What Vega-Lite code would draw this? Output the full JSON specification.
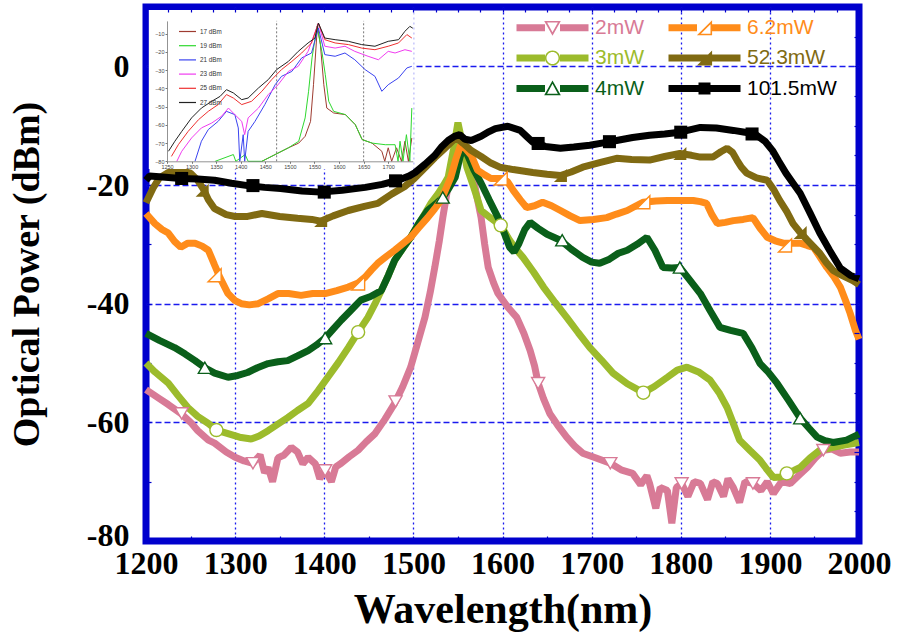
{
  "$schema": "https://vega.github.io/schema/vega-lite/v6.json",
  "width": 713,
  "height": 534,
  "autosize": "none",
  "padding": {"left": 146, "top": 7, "right": 45, "bottom": 92},
  "background": "white",
  "config": {
    "view": {"stroke": "#0000CD", "strokeWidth": 7},
    "axis": {"labelFont": "Liberation Serif", "titleFont": "Liberation Serif"}
  },
  "datasets": {
    "main": [
      {"s":"2mW","w":1200,"p":-54.5},{"s":"2mW","w":1215,"p":-56},{"s":"2mW","w":1225,"p":-57},{"s":"2mW","w":1239,"p":-58.5},{"s":"2mW","w":1250,"p":-60},{"s":"2mW","w":1258,"p":-61.4},{"s":"2mW","w":1270,"p":-63},{"s":"2mW","w":1277,"p":-63.5},{"s":"2mW","w":1290,"p":-65},{"s":"2mW","w":1300,"p":-65.9},{"s":"2mW","w":1310,"p":-66.5},{"s":"2mW","w":1320,"p":-66.9},{"s":"2mW","w":1328,"p":-65.5},{"s":"2mW","w":1333,"p":-68.5},{"s":"2mW","w":1337,"p":-67.6},{"s":"2mW","w":1342,"p":-70},{"s":"2mW","w":1348,"p":-66},{"s":"2mW","w":1355,"p":-65.5},{"s":"2mW","w":1363,"p":-64.2},{"s":"2mW","w":1370,"p":-65},{"s":"2mW","w":1376,"p":-67},{"s":"2mW","w":1382,"p":-65.9},{"s":"2mW","w":1390,"p":-67},{"s":"2mW","w":1395,"p":-69.5},{"s":"2mW","w":1401,"p":-68.1},{"s":"2mW","w":1408,"p":-70},{"s":"2mW","w":1413,"p":-67.5},{"s":"2mW","w":1419,"p":-66.9},{"s":"2mW","w":1428,"p":-65.8},{"s":"2mW","w":1438,"p":-64.7},{"s":"2mW","w":1447,"p":-63.3},{"s":"2mW","w":1457,"p":-61.9},{"s":"2mW","w":1468,"p":-59.5},{"s":"2mW","w":1479,"p":-56.8},{"s":"2mW","w":1488,"p":-54},{"s":"2mW","w":1497,"p":-50.7},{"s":"2mW","w":1505,"p":-46.5},{"s":"2mW","w":1513,"p":-42.3},{"s":"2mW","w":1519,"p":-38},{"s":"2mW","w":1524,"p":-33.9},{"s":"2mW","w":1529,"p":-29.5},{"s":"2mW","w":1533,"p":-25.5},{"s":"2mW","w":1538,"p":-21},{"s":"2mW","w":1542,"p":-17.5},{"s":"2mW","w":1548,"p":-14.5},{"s":"2mW","w":1553,"p":-12.5},{"s":"2mW","w":1558,"p":-14},{"s":"2mW","w":1565,"p":-17},{"s":"2mW","w":1570,"p":-21},{"s":"2mW","w":1576,"p":-25.5},{"s":"2mW","w":1580,"p":-30},{"s":"2mW","w":1584,"p":-33.9},{"s":"2mW","w":1590,"p":-36.5},{"s":"2mW","w":1595,"p":-38.3},{"s":"2mW","w":1606,"p":-40.6},{"s":"2mW","w":1616,"p":-42.3},{"s":"2mW","w":1624,"p":-45},{"s":"2mW","w":1631,"p":-47.9},{"s":"2mW","w":1636,"p":-50.5},{"s":"2mW","w":1640,"p":-53.4},{"s":"2mW","w":1646,"p":-56},{"s":"2mW","w":1653,"p":-58.5},{"s":"2mW","w":1662,"p":-60.5},{"s":"2mW","w":1672,"p":-62.5},{"s":"2mW","w":1681,"p":-64},{"s":"2mW","w":1690,"p":-65.2},{"s":"2mW","w":1705,"p":-66},{"s":"2mW","w":1721,"p":-66.9},{"s":"2mW","w":1733,"p":-68},{"s":"2mW","w":1746,"p":-68.6},{"s":"2mW","w":1755,"p":-70.5},{"s":"2mW","w":1762,"p":-69},{"s":"2mW","w":1765,"p":-70.3},{"s":"2mW","w":1772,"p":-74.5},{"s":"2mW","w":1777,"p":-71},{"s":"2mW","w":1785,"p":-71.5},{"s":"2mW","w":1790,"p":-77},{"s":"2mW","w":1795,"p":-71},{"s":"2mW","w":1801,"p":-70.3},{"s":"2mW","w":1808,"p":-72.5},{"s":"2mW","w":1815,"p":-70},{"s":"2mW","w":1822,"p":-70.3},{"s":"2mW","w":1830,"p":-73},{"s":"2mW","w":1836,"p":-70},{"s":"2mW","w":1841,"p":-70.3},{"s":"2mW","w":1848,"p":-72.5},{"s":"2mW","w":1853,"p":-69.5},{"s":"2mW","w":1859,"p":-71},{"s":"2mW","w":1866,"p":-73.5},{"s":"2mW","w":1872,"p":-70},{"s":"2mW","w":1881,"p":-70.3},{"s":"2mW","w":1890,"p":-71.5},{"s":"2mW","w":1897,"p":-70},{"s":"2mW","w":1904,"p":-72},{"s":"2mW","w":1913,"p":-70},{"s":"2mW","w":1923,"p":-70.3},{"s":"2mW","w":1932,"p":-69},{"s":"2mW","w":1942,"p":-67.6},{"s":"2mW","w":1951,"p":-66},{"s":"2mW","w":1960,"p":-64.7},{"s":"2mW","w":1970,"p":-64.5},{"s":"2mW","w":1979,"p":-65.2},{"s":"2mW","w":1990,"p":-65},{"s":"2mW","w":2000,"p":-65},

      {"s":"3mW","w":1200,"p":-50},{"s":"3mW","w":1210,"p":-51.5},{"s":"3mW","w":1225,"p":-53.4},{"s":"3mW","w":1236,"p":-55.5},{"s":"3mW","w":1247,"p":-57.5},{"s":"3mW","w":1258,"p":-59},{"s":"3mW","w":1270,"p":-60.2},{"s":"3mW","w":1279,"p":-61.3},{"s":"3mW","w":1292,"p":-61.9},{"s":"3mW","w":1305,"p":-62.5},{"s":"3mW","w":1318,"p":-62.8},{"s":"3mW","w":1327,"p":-62.3},{"s":"3mW","w":1337,"p":-61.4},{"s":"3mW","w":1348,"p":-60.3},{"s":"3mW","w":1359,"p":-59.2},{"s":"3mW","w":1370,"p":-58},{"s":"3mW","w":1382,"p":-56.8},{"s":"3mW","w":1393,"p":-54.7},{"s":"3mW","w":1404,"p":-52.4},{"s":"3mW","w":1416,"p":-49.9},{"s":"3mW","w":1427,"p":-47.4},{"s":"3mW","w":1438,"p":-44.8},{"s":"3mW","w":1449,"p":-42.3},{"s":"3mW","w":1457,"p":-40},{"s":"3mW","w":1464,"p":-37.8},{"s":"3mW","w":1472,"p":-35.2},{"s":"3mW","w":1479,"p":-32.7},{"s":"3mW","w":1488,"p":-30.7},{"s":"3mW","w":1497,"p":-28.8},{"s":"3mW","w":1505,"p":-26.8},{"s":"3mW","w":1513,"p":-24.8},{"s":"3mW","w":1520,"p":-23},{"s":"3mW","w":1528,"p":-21.4},{"s":"3mW","w":1534,"p":-20},{"s":"3mW","w":1539,"p":-18.7},{"s":"3mW","w":1545,"p":-14},{"s":"3mW","w":1550,"p":-9.5},{"s":"3mW","w":1555,"p":-13},{"s":"3mW","w":1560,"p":-17},{"s":"3mW","w":1568,"p":-20.5},{"s":"3mW","w":1576,"p":-24.3},{"s":"3mW","w":1587,"p":-25.6},{"s":"3mW","w":1598,"p":-26.8},{"s":"3mW","w":1608,"p":-29.3},{"s":"3mW","w":1615,"p":-30.8},{"s":"3mW","w":1623,"p":-32.2},{"s":"3mW","w":1635,"p":-34.7},{"s":"3mW","w":1646,"p":-37.2},{"s":"3mW","w":1659,"p":-39.8},{"s":"3mW","w":1672,"p":-42.3},{"s":"3mW","w":1685,"p":-44.9},{"s":"3mW","w":1698,"p":-47.4},{"s":"3mW","w":1711,"p":-49.5},{"s":"3mW","w":1724,"p":-51.7},{"s":"3mW","w":1740,"p":-53.5},{"s":"3mW","w":1758,"p":-55},{"s":"3mW","w":1770,"p":-54},{"s":"3mW","w":1785,"p":-52.4},{"s":"3mW","w":1796,"p":-51.2},{"s":"3mW","w":1807,"p":-50.7},{"s":"3mW","w":1820,"p":-51.5},{"s":"3mW","w":1833,"p":-52.9},{"s":"3mW","w":1843,"p":-55},{"s":"3mW","w":1852,"p":-57.5},{"s":"3mW","w":1859,"p":-60.2},{"s":"3mW","w":1866,"p":-63},{"s":"3mW","w":1878,"p":-64.8},{"s":"3mW","w":1889,"p":-66.4},{"s":"3mW","w":1897,"p":-68},{"s":"3mW","w":1904,"p":-69.3},{"s":"3mW","w":1912,"p":-69.2},{"s":"3mW","w":1919,"p":-68.6},{"s":"3mW","w":1927,"p":-68.1},{"s":"3mW","w":1934,"p":-67.6},{"s":"3mW","w":1945,"p":-66},{"s":"3mW","w":1956,"p":-64.7},{"s":"3mW","w":1971,"p":-64.2},{"s":"3mW","w":1985,"p":-63.8},{"s":"3mW","w":2000,"p":-63.4},

      {"s":"4mW","w":1200,"p":-45},{"s":"4mW","w":1215,"p":-46.2},{"s":"4mW","w":1232,"p":-47.4},{"s":"4mW","w":1244,"p":-48.5},{"s":"4mW","w":1255,"p":-49.6},{"s":"4mW","w":1266,"p":-50.8},{"s":"4mW","w":1277,"p":-51.7},{"s":"4mW","w":1292,"p":-52.4},{"s":"4mW","w":1303,"p":-52.1},{"s":"4mW","w":1314,"p":-51.6},{"s":"4mW","w":1325,"p":-50.8},{"s":"4mW","w":1337,"p":-50.1},{"s":"4mW","w":1348,"p":-49.8},{"s":"4mW","w":1359,"p":-49.6},{"s":"4mW","w":1370,"p":-48.8},{"s":"4mW","w":1382,"p":-47.9},{"s":"4mW","w":1391,"p":-47},{"s":"4mW","w":1401,"p":-45.8},{"s":"4mW","w":1410,"p":-44.3},{"s":"4mW","w":1419,"p":-42.8},{"s":"4mW","w":1430,"p":-41.1},{"s":"4mW","w":1441,"p":-39.4},{"s":"4mW","w":1452,"p":-38.8},{"s":"4mW","w":1464,"p":-37.8},{"s":"4mW","w":1472,"p":-35.2},{"s":"4mW","w":1479,"p":-32.7},{"s":"4mW","w":1488,"p":-30.7},{"s":"4mW","w":1497,"p":-28.8},{"s":"4mW","w":1506,"p":-26.5},{"s":"4mW","w":1516,"p":-24.3},{"s":"4mW","w":1525,"p":-23.2},{"s":"4mW","w":1533,"p":-22.1},{"s":"4mW","w":1540,"p":-20.5},{"s":"4mW","w":1547,"p":-18.7},{"s":"4mW","w":1552,"p":-15.5},{"s":"4mW","w":1556,"p":-13.5},{"s":"4mW","w":1561,"p":-15},{"s":"4mW","w":1568,"p":-17.5},{"s":"4mW","w":1576,"p":-19.7},{"s":"4mW","w":1585,"p":-22.5},{"s":"4mW","w":1595,"p":-25.5},{"s":"4mW","w":1603,"p":-28.5},{"s":"4mW","w":1608,"p":-30.5},{"s":"4mW","w":1613,"p":-31.3},{"s":"4mW","w":1618,"p":-30},{"s":"4mW","w":1625,"p":-27.5},{"s":"4mW","w":1631,"p":-26.3},{"s":"4mW","w":1640,"p":-27.3},{"s":"4mW","w":1650,"p":-28.3},{"s":"4mW","w":1665,"p":-29.3},{"s":"4mW","w":1677,"p":-30.8},{"s":"4mW","w":1690,"p":-32.2},{"s":"4mW","w":1700,"p":-33},{"s":"4mW","w":1709,"p":-33.2},{"s":"4mW","w":1720,"p":-32.5},{"s":"4mW","w":1730,"p":-31.5},{"s":"4mW","w":1740,"p":-31},{"s":"4mW","w":1751,"p":-30},{"s":"4mW","w":1762,"p":-28.8},{"s":"4mW","w":1771,"p":-31},{"s":"4mW","w":1780,"p":-33.9},{"s":"4mW","w":1790,"p":-34},{"s":"4mW","w":1799,"p":-33.9},{"s":"4mW","w":1810,"p":-36},{"s":"4mW","w":1822,"p":-38.3},{"s":"4mW","w":1833,"p":-41.2},{"s":"4mW","w":1844,"p":-44},{"s":"4mW","w":1856,"p":-44.5},{"s":"4mW","w":1870,"p":-45},{"s":"4mW","w":1880,"p":-47.5},{"s":"4mW","w":1889,"p":-50.1},{"s":"4mW","w":1898,"p":-51.5},{"s":"4mW","w":1908,"p":-53.4},{"s":"4mW","w":1921,"p":-56.3},{"s":"4mW","w":1934,"p":-59.3},{"s":"4mW","w":1944,"p":-61},{"s":"4mW","w":1953,"p":-62.5},{"s":"4mW","w":1962,"p":-63.1},{"s":"4mW","w":1971,"p":-63.4},{"s":"4mW","w":1986,"p":-63},{"s":"4mW","w":2000,"p":-62},

      {"s":"6.2mW","w":1200,"p":-24.8},{"s":"6.2mW","w":1210,"p":-26.5},{"s":"6.2mW","w":1218,"p":-27.5},{"s":"6.2mW","w":1225,"p":-28.1},{"s":"6.2mW","w":1232,"p":-29.5},{"s":"6.2mW","w":1239,"p":-30.5},{"s":"6.2mW","w":1247,"p":-29.8},{"s":"6.2mW","w":1255,"p":-29.8},{"s":"6.2mW","w":1263,"p":-30.3},{"s":"6.2mW","w":1270,"p":-31},{"s":"6.2mW","w":1277,"p":-33.5},{"s":"6.2mW","w":1283,"p":-35.6},{"s":"6.2mW","w":1292,"p":-38.3},{"s":"6.2mW","w":1300,"p":-39.5},{"s":"6.2mW","w":1307,"p":-40},{"s":"6.2mW","w":1316,"p":-40.2},{"s":"6.2mW","w":1326,"p":-40},{"s":"6.2mW","w":1337,"p":-39.2},{"s":"6.2mW","w":1348,"p":-38.3},{"s":"6.2mW","w":1360,"p":-38.3},{"s":"6.2mW","w":1374,"p":-38.6},{"s":"6.2mW","w":1387,"p":-38.3},{"s":"6.2mW","w":1401,"p":-38.3},{"s":"6.2mW","w":1414,"p":-37.8},{"s":"6.2mW","w":1427,"p":-37.2},{"s":"6.2mW","w":1438,"p":-36.5},{"s":"6.2mW","w":1446,"p":-35.5},{"s":"6.2mW","w":1453,"p":-34.3},{"s":"6.2mW","w":1460,"p":-33.2},{"s":"6.2mW","w":1470,"p":-32},{"s":"6.2mW","w":1479,"p":-31},{"s":"6.2mW","w":1488,"p":-29.9},{"s":"6.2mW","w":1497,"p":-28.8},{"s":"6.2mW","w":1506,"p":-27.2},{"s":"6.2mW","w":1516,"p":-25.5},{"s":"6.2mW","w":1524,"p":-24},{"s":"6.2mW","w":1531,"p":-22.6},{"s":"6.2mW","w":1537,"p":-20.5},{"s":"6.2mW","w":1542,"p":-18.7},{"s":"6.2mW","w":1548,"p":-15.5},{"s":"6.2mW","w":1553,"p":-13.3},{"s":"6.2mW","w":1558,"p":-13.8},{"s":"6.2mW","w":1565,"p":-15},{"s":"6.2mW","w":1572,"p":-17.5},{"s":"6.2mW","w":1580,"p":-18.3},{"s":"6.2mW","w":1587,"p":-18.9},{"s":"6.2mW","w":1600,"p":-18.9},{"s":"6.2mW","w":1606,"p":-19.5},{"s":"6.2mW","w":1612,"p":-20.9},{"s":"6.2mW","w":1620,"p":-22.5},{"s":"6.2mW","w":1627,"p":-23.8},{"s":"6.2mW","w":1636,"p":-23.5},{"s":"6.2mW","w":1645,"p":-22.9},{"s":"6.2mW","w":1655,"p":-23.5},{"s":"6.2mW","w":1665,"p":-24.3},{"s":"6.2mW","w":1676,"p":-25.2},{"s":"6.2mW","w":1687,"p":-26},{"s":"6.2mW","w":1702,"p":-25.8},{"s":"6.2mW","w":1717,"p":-25.5},{"s":"6.2mW","w":1728,"p":-24.9},{"s":"6.2mW","w":1740,"p":-24.3},{"s":"6.2mW","w":1750,"p":-23.5},{"s":"6.2mW","w":1758,"p":-22.9},{"s":"6.2mW","w":1772,"p":-22.7},{"s":"6.2mW","w":1785,"p":-22.6},{"s":"6.2mW","w":1800,"p":-22.6},{"s":"6.2mW","w":1814,"p":-22.6},{"s":"6.2mW","w":1822,"p":-22.8},{"s":"6.2mW","w":1829,"p":-23.1},{"s":"6.2mW","w":1835,"p":-25},{"s":"6.2mW","w":1841,"p":-26.5},{"s":"6.2mW","w":1850,"p":-26.3},{"s":"6.2mW","w":1859,"p":-26},{"s":"6.2mW","w":1870,"p":-25.8},{"s":"6.2mW","w":1881,"p":-25.5},{"s":"6.2mW","w":1889,"p":-27.3},{"s":"6.2mW","w":1897,"p":-28.8},{"s":"6.2mW","w":1906,"p":-29.4},{"s":"6.2mW","w":1915,"p":-29.8},{"s":"6.2mW","w":1925,"p":-29.8},{"s":"6.2mW","w":1934,"p":-29.8},{"s":"6.2mW","w":1942,"p":-30.2},{"s":"6.2mW","w":1949,"p":-30.5},{"s":"6.2mW","w":1957,"p":-32.3},{"s":"6.2mW","w":1964,"p":-33.9},{"s":"6.2mW","w":1972,"p":-35.5},{"s":"6.2mW","w":1979,"p":-37.2},{"s":"6.2mW","w":1985,"p":-39.5},{"s":"6.2mW","w":1990,"p":-41.6},{"s":"6.2mW","w":1996,"p":-44.5},{"s":"6.2mW","w":2000,"p":-46},

      {"s":"52.3mW","w":1200,"p":-23},{"s":"52.3mW","w":1208,"p":-20.5},{"s":"52.3mW","w":1215,"p":-18.8},{"s":"52.3mW","w":1225,"p":-17.9},{"s":"52.3mW","w":1239,"p":-17.6},{"s":"52.3mW","w":1250,"p":-18},{"s":"52.3mW","w":1258,"p":-19.2},{"s":"52.3mW","w":1264,"p":-20.6},{"s":"52.3mW","w":1270,"p":-22.5},{"s":"52.3mW","w":1277,"p":-24},{"s":"52.3mW","w":1290,"p":-25},{"s":"52.3mW","w":1300,"p":-25.3},{"s":"52.3mW","w":1314,"p":-25.3},{"s":"52.3mW","w":1330,"p":-24.8},{"s":"52.3mW","w":1350,"p":-25.3},{"s":"52.3mW","w":1370,"p":-25.6},{"s":"52.3mW","w":1386,"p":-25.8},{"s":"52.3mW","w":1396,"p":-26.1},{"s":"52.3mW","w":1410,"p":-25.2},{"s":"52.3mW","w":1427,"p":-24.3},{"s":"52.3mW","w":1445,"p":-23.6},{"s":"52.3mW","w":1460,"p":-23.1},{"s":"52.3mW","w":1476,"p":-21.5},{"s":"52.3mW","w":1490,"p":-20.3},{"s":"52.3mW","w":1501,"p":-18.9},{"s":"52.3mW","w":1513,"p":-17.1},{"s":"52.3mW","w":1524,"p":-15.4},{"s":"52.3mW","w":1534,"p":-14},{"s":"52.3mW","w":1541,"p":-13},{"s":"52.3mW","w":1548,"p":-12},{"s":"52.3mW","w":1556,"p":-13},{"s":"52.3mW","w":1565,"p":-14.2},{"s":"52.3mW","w":1576,"p":-15.2},{"s":"52.3mW","w":1587,"p":-16.3},{"s":"52.3mW","w":1597,"p":-17},{"s":"52.3mW","w":1612,"p":-17.4},{"s":"52.3mW","w":1634,"p":-17.9},{"s":"52.3mW","w":1650,"p":-18.2},{"s":"52.3mW","w":1665,"p":-18.4},{"s":"52.3mW","w":1677,"p":-17.8},{"s":"52.3mW","w":1690,"p":-17},{"s":"52.3mW","w":1710,"p":-16.2},{"s":"52.3mW","w":1728,"p":-15.5},{"s":"52.3mW","w":1745,"p":-15.7},{"s":"52.3mW","w":1765,"p":-15.8},{"s":"52.3mW","w":1782,"p":-15.2},{"s":"52.3mW","w":1799,"p":-14.7},{"s":"52.3mW","w":1812,"p":-15},{"s":"52.3mW","w":1822,"p":-15.3},{"s":"52.3mW","w":1836,"p":-15.3},{"s":"52.3mW","w":1845,"p":-14.4},{"s":"52.3mW","w":1852,"p":-13.8},{"s":"52.3mW","w":1858,"p":-14.5},{"s":"52.3mW","w":1863,"p":-15.8},{"s":"52.3mW","w":1868,"p":-17},{"s":"52.3mW","w":1874,"p":-18},{"s":"52.3mW","w":1885,"p":-18.8},{"s":"52.3mW","w":1897,"p":-19.2},{"s":"52.3mW","w":1904,"p":-20.7},{"s":"52.3mW","w":1911,"p":-22.6},{"s":"52.3mW","w":1919,"p":-24.5},{"s":"52.3mW","w":1926,"p":-26.5},{"s":"52.3mW","w":1934,"p":-28},{"s":"52.3mW","w":1942,"p":-29.3},{"s":"52.3mW","w":1949,"p":-30.4},{"s":"52.3mW","w":1956,"p":-31.5},{"s":"52.3mW","w":1963,"p":-33},{"s":"52.3mW","w":1971,"p":-34.4},{"s":"52.3mW","w":1979,"p":-35.1},{"s":"52.3mW","w":1986,"p":-35.6},{"s":"52.3mW","w":1993,"p":-36.1},{"s":"52.3mW","w":2000,"p":-36.8},

      {"s":"101.5mW","w":1200,"p":-19.2},{"s":"101.5mW","w":1204,"p":-18.5},{"s":"101.5mW","w":1215,"p":-18.6},{"s":"101.5mW","w":1239,"p":-18.9},{"s":"101.5mW","w":1258,"p":-19},{"s":"101.5mW","w":1277,"p":-19.2},{"s":"101.5mW","w":1296,"p":-19.7},{"s":"101.5mW","w":1314,"p":-20.1},{"s":"101.5mW","w":1333,"p":-20.4},{"s":"101.5mW","w":1351,"p":-20.6},{"s":"101.5mW","w":1375,"p":-21},{"s":"101.5mW","w":1396,"p":-21.2},{"s":"101.5mW","w":1420,"p":-20.9},{"s":"101.5mW","w":1446,"p":-20.4},{"s":"101.5mW","w":1465,"p":-19.9},{"s":"101.5mW","w":1483,"p":-19.2},{"s":"101.5mW","w":1495,"p":-18.5},{"s":"101.5mW","w":1502,"p":-17.9},{"s":"101.5mW","w":1513,"p":-16.5},{"s":"101.5mW","w":1524,"p":-15},{"s":"101.5mW","w":1532,"p":-13.5},{"s":"101.5mW","w":1539,"p":-12.5},{"s":"101.5mW","w":1546,"p":-11.8},{"s":"101.5mW","w":1552,"p":-11.5},{"s":"101.5mW","w":1558,"p":-12.3},{"s":"101.5mW","w":1565,"p":-12.5},{"s":"101.5mW","w":1576,"p":-11.8},{"s":"101.5mW","w":1585,"p":-11},{"s":"101.5mW","w":1592,"p":-10.5},{"s":"101.5mW","w":1606,"p":-10.1},{"s":"101.5mW","w":1620,"p":-10.8},{"s":"101.5mW","w":1627,"p":-11.8},{"s":"101.5mW","w":1634,"p":-12.8},{"s":"101.5mW","w":1648,"p":-13.5},{"s":"101.5mW","w":1665,"p":-13.8},{"s":"101.5mW","w":1680,"p":-13.6},{"s":"101.5mW","w":1698,"p":-13.3},{"s":"101.5mW","w":1713,"p":-12.9},{"s":"101.5mW","w":1728,"p":-12.5},{"s":"101.5mW","w":1746,"p":-12},{"s":"101.5mW","w":1765,"p":-11.6},{"s":"101.5mW","w":1782,"p":-11.4},{"s":"101.5mW","w":1799,"p":-11.1},{"s":"101.5mW","w":1810,"p":-10.7},{"s":"101.5mW","w":1822,"p":-10.3},{"s":"101.5mW","w":1840,"p":-10.4},{"s":"101.5mW","w":1859,"p":-10.8},{"s":"101.5mW","w":1872,"p":-11.1},{"s":"101.5mW","w":1885,"p":-11.6},{"s":"101.5mW","w":1895,"p":-12.7},{"s":"101.5mW","w":1903,"p":-14.2},{"s":"101.5mW","w":1910,"p":-16},{"s":"101.5mW","w":1918,"p":-18},{"s":"101.5mW","w":1926,"p":-19.7},{"s":"101.5mW","w":1934,"p":-21.4},{"s":"101.5mW","w":1945,"p":-24.7},{"s":"101.5mW","w":1956,"p":-28.1},{"s":"101.5mW","w":1967,"p":-31},{"s":"101.5mW","w":1979,"p":-34},{"s":"101.5mW","w":1990,"p":-35.2},{"s":"101.5mW","w":2000,"p":-35.8}
    ],
    "mk": [
      {"s":"2mW","w":1240,"p":-58.5},{"s":"2mW","w":1320,"p":-66.9},{"s":"2mW","w":1401,"p":-68.1},{"s":"2mW","w":1480,"p":-56.5},{"s":"2mW","w":1640,"p":-53.4},{"s":"2mW","w":1721,"p":-66.9},{"s":"2mW","w":1801,"p":-70.3},{"s":"2mW","w":1881,"p":-70.3},{"s":"2mW","w":1960,"p":-64.7},
      {"s":"3mW","w":1279,"p":-61.3},{"s":"3mW","w":1438,"p":-44.8},{"s":"3mW","w":1598,"p":-26.8},{"s":"3mW","w":1758,"p":-55},{"s":"3mW","w":1919,"p":-68.6},
      {"s":"4mW","w":1266,"p":-50.8},{"s":"4mW","w":1401,"p":-45.8},{"s":"4mW","w":1533,"p":-22.1},{"s":"4mW","w":1667,"p":-29.3},{"s":"4mW","w":1799,"p":-33.9},{"s":"4mW","w":1934,"p":-59.3},
      {"s":"6.2mW","w":1277,"p":-35.2},{"s":"6.2mW","w":1438,"p":-36.6},{"s":"6.2mW","w":1598,"p":-18.9},{"s":"6.2mW","w":1758,"p":-22.9},{"s":"6.2mW","w":1917,"p":-30.2},
      {"s":"52.3mW","w":1263,"p":-20.9},{"s":"52.3mW","w":1396,"p":-26},{"s":"52.3mW","w":1665,"p":-18.4},{"s":"52.3mW","w":1799,"p":-14.7},{"s":"52.3mW","w":1934,"p":-28},
      {"s":"101.5mW","w":1240,"p":-18.9},{"s":"101.5mW","w":1320,"p":-20.1},{"s":"101.5mW","w":1400,"p":-21.2},{"s":"101.5mW","w":1480,"p":-19.3},{"s":"101.5mW","w":1640,"p":-13},{"s":"101.5mW","w":1720,"p":-12.7},{"s":"101.5mW","w":1800,"p":-11.1},{"s":"101.5mW","w":1880,"p":-11.4}
    ],
    "ins": [
      {"s":"17 dBm","w":1443,"p":-80},{"s":"17 dBm","w":1470,"p":-76.3},{"s":"17 dBm","w":1497,"p":-72.6},{"s":"17 dBm","w":1518,"p":-70},{"s":"17 dBm","w":1531,"p":-66.3},{"s":"17 dBm","w":1542,"p":-58.1},{"s":"17 dBm","w":1548,"p":-38},{"s":"17 dBm","w":1553,"p":-17.9},{"s":"17 dBm","w":1556,"p":-5.1},{"s":"17 dBm","w":1562,"p":-16},{"s":"17 dBm","w":1569,"p":-38},{"s":"17 dBm","w":1575,"p":-50.8},{"s":"17 dBm","w":1589,"p":-53.5},{"s":"17 dBm","w":1613,"p":-54.4},{"s":"17 dBm","w":1633,"p":-59.9},{"s":"17 dBm","w":1647,"p":-68.1},{"s":"17 dBm","w":1667,"p":-70},{"s":"17 dBm","w":1687,"p":-74.5},{"s":"17 dBm","w":1693,"p":-80},{"s":"17 dBm","w":1700,"p":-72.6},{"s":"17 dBm","w":1707,"p":-80},{"s":"17 dBm","w":1717,"p":-72.6},{"s":"17 dBm","w":1727,"p":-80},{"s":"17 dBm","w":1734,"p":-69},{"s":"17 dBm","w":1741,"p":-80},{"s":"17 dBm","w":1748,"p":-67.2},
      {"s":"19 dBm","w":1348,"p":-80},{"s":"19 dBm","w":1385,"p":-76.3},{"s":"19 dBm","w":1390,"p":-80},{"s":"19 dBm","w":1409,"p":-76.3},{"s":"19 dBm","w":1415,"p":-80},{"s":"19 dBm","w":1443,"p":-80},{"s":"19 dBm","w":1470,"p":-76.3},{"s":"19 dBm","w":1497,"p":-72.6},{"s":"19 dBm","w":1518,"p":-69},{"s":"19 dBm","w":1531,"p":-56.2},{"s":"19 dBm","w":1538,"p":-41.6},{"s":"19 dBm","w":1545,"p":-23.3},{"s":"19 dBm","w":1555,"p":-6},{"s":"19 dBm","w":1565,"p":-19.7},{"s":"19 dBm","w":1572,"p":-32.5},{"s":"19 dBm","w":1579,"p":-47.1},{"s":"19 dBm","w":1589,"p":-52.6},{"s":"19 dBm","w":1613,"p":-54.4},{"s":"19 dBm","w":1633,"p":-59.9},{"s":"19 dBm","w":1647,"p":-68.1},{"s":"19 dBm","w":1667,"p":-70},{"s":"19 dBm","w":1694,"p":-70.9},{"s":"19 dBm","w":1714,"p":-70.9},{"s":"19 dBm","w":1720,"p":-80},{"s":"19 dBm","w":1724,"p":-69},{"s":"19 dBm","w":1730,"p":-80},{"s":"19 dBm","w":1737,"p":-65.4},{"s":"19 dBm","w":1744,"p":-80},{"s":"19 dBm","w":1748,"p":-50.8},
      {"s":"21 dBm","w":1307,"p":-80},{"s":"21 dBm","w":1320,"p":-69},{"s":"21 dBm","w":1334,"p":-62.6},{"s":"21 dBm","w":1354,"p":-58.1},{"s":"21 dBm","w":1371,"p":-52.6},{"s":"21 dBm","w":1388,"p":-54.4},{"s":"21 dBm","w":1395,"p":-61.7},{"s":"21 dBm","w":1398,"p":-80},{"s":"21 dBm","w":1405,"p":-65.4},{"s":"21 dBm","w":1408,"p":-80},{"s":"21 dBm","w":1415,"p":-63.6},{"s":"21 dBm","w":1429,"p":-58.1},{"s":"21 dBm","w":1449,"p":-48.9},{"s":"21 dBm","w":1470,"p":-38},{"s":"21 dBm","w":1483,"p":-33.4},{"s":"21 dBm","w":1504,"p":-30.7},{"s":"21 dBm","w":1524,"p":-23.3},{"s":"21 dBm","w":1544,"p":-20.6},{"s":"21 dBm","w":1558,"p":-6.9},{"s":"21 dBm","w":1571,"p":-21.5},{"s":"21 dBm","w":1592,"p":-22.4},{"s":"21 dBm","w":1612,"p":-20.6},{"s":"21 dBm","w":1632,"p":-24.3},{"s":"21 dBm","w":1653,"p":-29.7},{"s":"21 dBm","w":1673,"p":-33.4},{"s":"21 dBm","w":1687,"p":-41.6},{"s":"21 dBm","w":1700,"p":-38},{"s":"21 dBm","w":1721,"p":-34.3},{"s":"21 dBm","w":1738,"p":-28.8},{"s":"21 dBm","w":1748,"p":-27.9},
      {"s":"23 dBm","w":1270,"p":-80},{"s":"23 dBm","w":1280,"p":-74.5},{"s":"23 dBm","w":1300,"p":-67.2},{"s":"23 dBm","w":1320,"p":-61.7},{"s":"23 dBm","w":1341,"p":-59},{"s":"23 dBm","w":1361,"p":-55.3},{"s":"23 dBm","w":1375,"p":-50.8},{"s":"23 dBm","w":1388,"p":-54.4},{"s":"23 dBm","w":1402,"p":-58.1},{"s":"23 dBm","w":1408,"p":-65.4},{"s":"23 dBm","w":1415,"p":-56.2},{"s":"23 dBm","w":1436,"p":-50.8},{"s":"23 dBm","w":1456,"p":-43.4},{"s":"23 dBm","w":1476,"p":-38},{"s":"23 dBm","w":1497,"p":-30.7},{"s":"23 dBm","w":1517,"p":-27.9},{"s":"23 dBm","w":1537,"p":-19.7},{"s":"23 dBm","w":1558,"p":-4.2},{"s":"23 dBm","w":1571,"p":-16.9},{"s":"23 dBm","w":1592,"p":-17.9},{"s":"23 dBm","w":1612,"p":-16.9},{"s":"23 dBm","w":1632,"p":-19.7},{"s":"23 dBm","w":1659,"p":-22.4},{"s":"23 dBm","w":1680,"p":-24.3},{"s":"23 dBm","w":1700,"p":-19.7},{"s":"23 dBm","w":1714,"p":-20.6},{"s":"23 dBm","w":1734,"p":-18.8},{"s":"23 dBm","w":1748,"p":-19.7},
      {"s":"25 dBm","w":1259,"p":-77.3},{"s":"25 dBm","w":1273,"p":-70.9},{"s":"25 dBm","w":1293,"p":-63.6},{"s":"25 dBm","w":1314,"p":-57.2},{"s":"25 dBm","w":1334,"p":-52.6},{"s":"25 dBm","w":1354,"p":-48.9},{"s":"25 dBm","w":1371,"p":-43.4},{"s":"25 dBm","w":1385,"p":-45.3},{"s":"25 dBm","w":1402,"p":-48.9},{"s":"25 dBm","w":1422,"p":-47.1},{"s":"25 dBm","w":1443,"p":-41.6},{"s":"25 dBm","w":1463,"p":-35.2},{"s":"25 dBm","w":1483,"p":-29.7},{"s":"25 dBm","w":1504,"p":-25.2},{"s":"25 dBm","w":1524,"p":-20.6},{"s":"25 dBm","w":1544,"p":-15.1},{"s":"25 dBm","w":1558,"p":-4.2},{"s":"25 dBm","w":1571,"p":-13.3},{"s":"25 dBm","w":1592,"p":-15.1},{"s":"25 dBm","w":1619,"p":-16},{"s":"25 dBm","w":1646,"p":-17.9},{"s":"25 dBm","w":1673,"p":-18.8},{"s":"25 dBm","w":1700,"p":-16.9},{"s":"25 dBm","w":1721,"p":-15.1},{"s":"25 dBm","w":1738,"p":-10.5},{"s":"25 dBm","w":1748,"p":-12.4},
      {"s":"27 dBm","w":1253,"p":-74.5},{"s":"27 dBm","w":1266,"p":-69},{"s":"27 dBm","w":1280,"p":-63.6},{"s":"27 dBm","w":1300,"p":-56.2},{"s":"27 dBm","w":1320,"p":-50.8},{"s":"27 dBm","w":1341,"p":-47.1},{"s":"27 dBm","w":1358,"p":-44.4},{"s":"27 dBm","w":1371,"p":-40.7},{"s":"27 dBm","w":1385,"p":-42.5},{"s":"27 dBm","w":1402,"p":-46.2},{"s":"27 dBm","w":1415,"p":-45.3},{"s":"27 dBm","w":1436,"p":-39.8},{"s":"27 dBm","w":1456,"p":-35.2},{"s":"27 dBm","w":1473,"p":-29.7},{"s":"27 dBm","w":1497,"p":-25.2},{"s":"27 dBm","w":1517,"p":-19.7},{"s":"27 dBm","w":1537,"p":-15.1},{"s":"27 dBm","w":1551,"p":-12.4},{"s":"27 dBm","w":1558,"p":-4.2},{"s":"27 dBm","w":1571,"p":-12.4},{"s":"27 dBm","w":1592,"p":-13.3},{"s":"27 dBm","w":1619,"p":-14.2},{"s":"27 dBm","w":1646,"p":-16},{"s":"27 dBm","w":1673,"p":-16.9},{"s":"27 dBm","w":1700,"p":-14.2},{"s":"27 dBm","w":1721,"p":-13.3},{"s":"27 dBm","w":1734,"p":-8.7},{"s":"27 dBm","w":1744,"p":-6},{"s":"27 dBm","w":1750,"p":-7}
    ],
    "bg": [{"x1": 1213, "x2": 1752, "y1": -84.2, "y2": 3}],
    "vl": [{"w": 1473}, {"w": 1650}]
  },
  "layer": [
    {
      "layer": [
        {
          "data": {"name": "main"},
          "mark": {"type": "line", "strokeWidth": 7, "strokeJoin": "bevel"},
          "encoding": {
            "x": {"field": "w", "type": "quantitative",
              "scale": {"domain": [1200, 2000], "nice": false, "zero": false},
              "axis": {"orient": "bottom", "title": "Wavelength(nm)", "values": [1200,1225,1250,1275,1300,1325,1350,1375,1400,1425,1450,1475,1500,1525,1550,1575,1600,1625,1650,1675,1700,1725,1750,1775,1800,1825,1850,1875,1900,1925,1950,1975,2000],
                "labelExpr": "datum.value % 100 === 0 ? '' + datum.value : ''",
                "labelFontSize": 32, "labelFontWeight": "bold", "labelColor": "#000", "labelFlush": false, "labelOverlap": false, "labelPadding": 12,
                "domain": false, "tickSize": -5, "tickColor": "#0000CD", "tickWidth": 1.2,
                "grid": true, "gridColor": "#1a1aee", "gridWidth": 1.3, "gridDash": [2, 3],
                "gridOpacity": {"condition": {"test": "datum.value % 100 === 0 && datum.value > 1200 && datum.value < 2000", "value": 1}, "value": 0},
                "titleFontSize": 42, "titleFontWeight": "bold", "titleColor": "#000", "titlePadding": 10}},
            "y": {"field": "p", "type": "quantitative",
              "scale": {"domain": [-80, 10], "nice": false, "zero": false},
              "axis": {"orient": "left", "title": "Optical Power (dBm)", "values": [-80,-75,-70,-65,-60,-55,-50,-45,-40,-35,-30,-25,-20,-15,-10,-5,0,5,10],
                "labelExpr": "datum.value % 20 === 0 ? '' + datum.value : ''",
                "labelFontSize": 32, "labelFontWeight": "bold", "labelColor": "#000", "labelFlush": false, "labelOverlap": false, "labelPadding": 22,
                "labelOffset": {"condition": {"test": "datum.value === -80", "value": -6}, "value": 0},
                "domain": false, "tickSize": -5, "tickColor": "#0000CD", "tickWidth": 1.2,
                "grid": true, "gridColor": "#1a1aee", "gridWidth": 1.3, "gridDash": [6, 3],
                "gridOpacity": {"condition": {"test": "datum.value % 20 === 0 && datum.value > -80", "value": 1}, "value": 0},
                "titleFontSize": 38, "titleFontWeight": "bold", "titleColor": "#000", "titlePadding": 40}},
            "color": {"field": "s", "type": "nominal",
              "scale": {"domain": ["2mW", "3mW", "4mW", "6.2mW", "52.3mW", "101.5mW"],
                        "range": ["#D87A96", "#9CBB2C", "#0A5F1A", "#FF8C1A", "#806A12", "#000000"]},
              "legend": {"orient": "none", "legendX": 396, "legendY": 10, "title": null, "columns": 2, "columnPadding": 24, "rowPadding": 8.5,
                "symbolSize": 400, "symbolStrokeWidth": 0, "labelFont": "Liberation Sans", "labelFontSize": 21, "labelOffset": 32, "padding": 0,
                "encode": {
                  "symbols": {"update": {
                    "shape": {"signal": "datum.value === '2mW' ? 'M-3.6,-0.35H-0.75V0.35H-3.6Z M0.75,-0.35H3.6V0.35H0.75Z M-0.83,-0.68L0.83,-0.68L0,0.79Z M-0.54,-0.52L0,0.45L0.54,-0.52Z' : datum.value === '3mW' ? 'M-3.6,-0.35H-0.75V0.35H-3.6Z M0.75,-0.35H3.6V0.35H0.75Z M-0.76,0A0.76,0.76,0,1,1,0.76,0A0.76,0.76,0,1,1,-0.76,0Z M-0.6,0A0.6,0.6,0,1,0,0.6,0A0.6,0.6,0,1,0,-0.6,0Z' : datum.value === '4mW' ? 'M-3.6,-0.35H-0.75V0.35H-3.6Z M0.75,-0.35H3.6V0.35H0.75Z M0,-0.79L0.83,0.68L-0.83,0.68Z M0,-0.47L-0.54,0.52L0.54,0.52Z' : datum.value === '6.2mW' ? 'M-3.6,-0.35H-0.75V0.35H-3.6Z M0.75,-0.35H3.6V0.35H0.75Z M0.76,-0.76L0.76,0.76L-0.76,0.76Z M0.6,-0.36L-0.36,0.6L0.6,0.6Z' : datum.value === '52.3mW' ? 'M-3.6,-0.35H3.6V0.35H-3.6Z M0.76,-0.76L0.76,0.76L-0.76,0.76Z' : 'M-3.6,-0.35H3.6V0.35H-3.6Z M-0.6,-0.6H0.6V0.6H-0.6Z'"},
                    "fill": {"signal": "datum.value === '2mW' ? '#D87A96' : datum.value === '3mW' ? '#9CBB2C' : datum.value === '4mW' ? '#0A5F1A' : datum.value === '6.2mW' ? '#FF8C1A' : datum.value === '52.3mW' ? '#806A12' : '#000000'"},
                    "fillOpacity": {"value": 1},
                    "opacity": {"value": 1},
                    "stroke": {"value": "transparent"},
                    "strokeWidth": {"value": 0}
                  }},
                  "labels": {"update": {
                    "fill": {"signal": "datum.value === '2mW' ? '#D87A96' : datum.value === '3mW' ? '#9CBB2C' : datum.value === '4mW' ? '#0A5F1A' : datum.value === '6.2mW' ? '#FF8C1A' : datum.value === '52.3mW' ? '#806A12' : '#000000'"}
                  }}
                }}}
          }
        },
        {
          "data": {"name": "mk"},
          "transform": [{"filter": "datum.s !== '52.3mW' && datum.s !== '101.5mW'"}],
          "mark": {"type": "point", "filled": false, "fill": "white", "fillOpacity": 1, "strokeWidth": 1.4, "size": 170, "opacity": 1},
          "encoding": {
            "x": {"field": "w", "type": "quantitative"},
            "y": {"field": "p", "type": "quantitative"},
            "color": {"field": "s", "type": "nominal"},
            "shape": {"field": "s", "type": "nominal", "legend": null,
              "scale": {"domain": ["2mW", "3mW", "4mW", "6.2mW", "52.3mW", "101.5mW"],
                        "range": ["triangle-down", "circle", "triangle-up", "M1,-1L1,1L-1,1Z", "M1,-1L1,1L-1,1Z", "square"]}}
          }
        },
        {
          "data": {"name": "mk"},
          "transform": [{"filter": "datum.s === '52.3mW' || datum.s === '101.5mW'"}],
          "mark": {"type": "point", "filled": true, "size": 170, "opacity": 1},
          "encoding": {
            "x": {"field": "w", "type": "quantitative"},
            "y": {"field": "p", "type": "quantitative"},
            "color": {"field": "s", "type": "nominal"},
            "shape": {"field": "s", "type": "nominal", "legend": null}
          }
        }
      ]
    },
    {
      "layer": [
        {
          "data": {"name": "bg"},
          "mark": {"type": "rect", "fill": "white", "stroke": null},
          "encoding": {
            "x": {"field": "x1", "type": "quantitative",
              "scale": {"domain": [1250, 1750], "range": [21, 266.8], "nice": false, "zero": false},
              "axis": {"orient": "bottom", "offset": -379.7, "values": [1250,1300,1350,1400,1450,1500,1550,1600,1650,1700], "format": "d",
                "labelFont": "Liberation Sans", "labelFontSize": 5.5, "labelColor": "#444", "labelFlush": false, "labelOverlap": false, "labelPadding": 1,
                "tickSize": 2, "tickColor": "#777", "domainColor": "#777", "domainWidth": 0.8, "grid": false, "title": null, "zindex": 1}},
            "x2": {"field": "x2"},
            "y": {"field": "y1", "type": "quantitative",
              "scale": {"domain": [-80, -3], "range": [154.3, 13.9], "nice": false, "zero": false},
              "axis": {"orient": "left", "offset": -21, "values": [-80,-70,-60,-50,-40,-30,-20,-10],
                "labelFont": "Liberation Sans", "labelFontSize": 5.5, "labelColor": "#444", "labelFlush": false, "labelOverlap": false, "labelPadding": 1,
                "tickSize": 2, "tickColor": "#777", "domainColor": "#777", "domainWidth": 0.8, "grid": false, "title": null, "zindex": 1}},
            "y2": {"field": "y2"}
          }
        },
        {
          "data": {"name": "vl"},
          "mark": {"type": "rule", "stroke": "#555", "strokeWidth": 0.8, "strokeDash": [2, 2]},
          "encoding": {
            "x": {"field": "w", "type": "quantitative"},
            "y": {"datum": -80, "type": "quantitative"},
            "y2": {"datum": -3}
          }
        },
        {
          "data": {"name": "ins"},
          "mark": {"type": "line", "strokeWidth": 1},
          "encoding": {
            "x": {"field": "w", "type": "quantitative"},
            "y": {"field": "p", "type": "quantitative"},
            "color": {"field": "s", "type": "nominal",
              "scale": {"domain": ["17 dBm", "19 dBm", "21 dBm", "23 dBm", "25 dBm", "27 dBm"],
                        "range": ["#9E3B30", "#2FD82F", "#3B44F0", "#F03CF0", "#EE3030", "#222222"]},
              "legend": {"orient": "none", "legendX": 32, "legendY": 15, "title": null, "symbolType": "stroke", "symbolSize": 289, "symbolStrokeWidth": 1.2,
                "labelFont": "Liberation Sans", "labelFontSize": 6.3, "labelColor": "#333", "rowPadding": 1.2, "labelOffset": 3, "padding": 0}}
          }
        }
      ]
    },
    {
      "mark": {"type": "point", "opacity": 0},
      "encoding": {
        "x": {"datum": 1600, "type": "quantitative",
          "scale": {"domain": [1200, 2000], "nice": false, "zero": false},
          "axis": {"orient": "top", "values": [1200,1225,1250,1275,1300,1325,1350,1375,1400,1425,1450,1475,1500,1525,1550,1575,1600,1625,1650,1675,1700,1725,1750,1775,1800,1825,1850,1875,1900,1925,1950,1975,2000],
            "labels": false, "domain": false, "grid": false, "tickSize": -5, "tickColor": "#0000CD", "tickWidth": 1.2, "title": null, "zindex": 1}},
        "y": {"datum": -30, "type": "quantitative",
          "scale": {"domain": [-80, 10], "nice": false, "zero": false},
          "axis": {"orient": "right", "values": [-80,-75,-70,-65,-60,-55,-50,-45,-40,-35,-30,-25,-20,-15,-10,-5,0,5,10],
            "labels": false, "domain": false, "grid": false, "tickSize": -5, "tickColor": "#0000CD", "tickWidth": 1.2, "title": null, "zindex": 1}}
      }
    }
  ],
  "resolve": {
    "scale": {"x": "independent", "y": "independent", "color": "independent"},
    "axis": {"x": "independent", "y": "independent"},
    "legend": {"color": "independent"}
  }
}
